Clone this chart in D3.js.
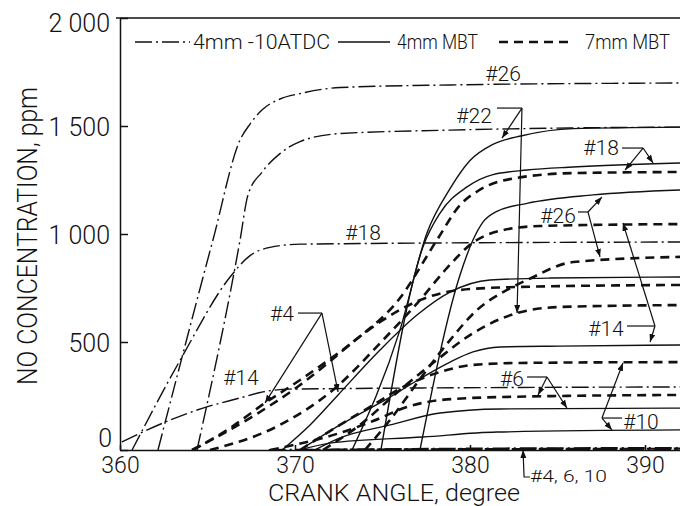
<!DOCTYPE html>
<html>
<head>
<meta charset="utf-8">
<script src="https://cdn.jsdelivr.net/npm/d3@7"></script>
<style>
    body { margin: 0; background: #fff; }
    svg text { font-family: Roboto, "DejaVu Sans", sans-serif; font-weight: 300; fill: #111; }
</style>
</head>
<body>
<div id="chart"></div>
<script>
// [crank angle (deg), NO (ppm)]

// 4mm -10ATDC (dash-dot)
const atdc26 = [[362.17, 0], [365.31, 972], [366.86, 1435], [367.43, 1509], [368.11, 1574], [369.14, 1625], [370.29, 1650], [372.57, 1678], [378.86, 1690], [392, 1699]];
const atdc22 = [[364.4, 0], [366.86, 972], [367.31, 1180], [368.11, 1286], [369.14, 1372], [370.29, 1428], [372.57, 1465], [378.86, 1481], [385.71, 1491], [392, 1495]];
const atdc18 = [[360.69, 0], [363.54, 431], [366.29, 801], [367.43, 900], [368.57, 938], [370.29, 953], [392, 963]];
const atdc14 = [[360.11, 37], [362.46, 125], [364.74, 194], [366.86, 241], [368.17, 269], [369.71, 282], [392, 292]];
const atdc4 = [[368.5, 0], [380, 4], [392, 6]];
const atdc6 = [[370.5, 0], [382, 7], [392, 9]];
const atdc10 = [[372, 0], [384, 2], [392, 3]];

// 4mm MBT (solid)
const mbt4_22 = [[373.26, 0], [376.0, 556], [377.54, 1005], [378.86, 1210], [380.0, 1340], [381.31, 1415], [382.97, 1455], [385.89, 1488], [392, 1495]];
const mbt4_18 = [[374.91, 0], [377.31, 940], [378.29, 1097], [379.83, 1218], [381.31, 1275], [383.26, 1296], [385.89, 1310], [392, 1329]];
const mbt4_26 = [[377.14, 0], [379.43, 810], [380.17, 972], [380.74, 1055], [381.54, 1105], [383.26, 1142], [387.03, 1181], [392, 1204]];
const mbt4_4 = [[369.26, 0], [370.86, 116], [372.46, 255], [374.86, 463], [376.97, 625], [378.86, 731], [381.14, 787], [384.57, 796], [392, 801]];
const mbt4_14 = [[370.29, 0], [372.57, 116], [375.43, 245], [377.31, 338], [378.86, 407], [380.17, 454], [381.71, 477], [385.14, 481], [392, 486]];
const mbt4_6 = [[371.14, 0], [372.57, 56], [375.43, 116], [378.29, 171], [381.71, 190], [392, 194]];
const mbt4_10 = [[370.29, 0], [372.0, 32], [377.31, 60], [381.54, 83], [392, 93]];

// 7mm MBT (dashed)
const mbt7_18 = [[364.11, 0], [367.43, 148], [370.29, 301], [372.97, 477], [376.0, 704], [378.11, 972], [379.43, 1134], [380.57, 1205], [382.86, 1262], [385.89, 1282], [392, 1287]];
const mbt7_14 = [[365.14, 0], [369.14, 116], [372.17, 278], [375.03, 509], [377.14, 694], [378.69, 843], [380.17, 960], [381.71, 1015], [384.0, 1037], [392, 1046]];
const mbt7_26 = [[374.0, 0], [375.43, 139], [377.31, 347], [378.86, 509], [380.4, 648], [382.11, 741], [383.26, 787], [385.89, 870], [392, 894]];
const mbt7_22 = [[371.6, 0], [373.71, 116], [376.0, 278], [378.11, 417], [380.0, 532], [382.69, 634], [385.14, 662], [392, 671]];
const mbt7_10 = [[370.29, 0], [372.57, 116], [374.46, 208], [376.4, 301], [378.29, 361], [380.17, 394], [382.86, 403], [392, 407]];
const mbt7_6 = [[368.57, 0], [372.57, 79], [374.46, 134], [376.4, 199], [378.29, 231], [381.71, 245], [392, 255]];
const mbt7_4 = [[364.17, 0], [366.29, 102], [368.29, 218], [370.29, 324], [372.57, 454], [374.86, 593], [377.14, 694], [379.43, 741], [382.86, 755], [392, 764]];

const yTicks = [0, 500, 1000, 1500, 2000];
const xTicks = [360, 370, 380, 390];

// case labels [text, angle, ppm]
const caseLabels = [
    ["#26", 381.89, 1745],
    ["#22", 380.23, 1551],
    ["#18", 387.49, 1403],
    ["#26", 385.03, 1088],
    ["#18", 373.89, 1009],
    ["#4", 369.26, 634],
    ["#14", 366.91, 338],
    ["#14", 387.77, 565],
    ["#6", 382.4, 329],
    ["#10", 389.77, 130]
];

// leader lines: bracket then arrows to the curves
const leaders = [
    { bracket: [[381.54, 1583], [382.97, 1583]], arrows: [[381.83, 1444], [382.69, 634]] },
    { bracket: [[388.69, 1398], [389.89, 1398]], arrows: [[388.86, 1296], [390.46, 1329]] },
    { bracket: [[386.17, 1102], [386.74, 1102]], arrows: [[387.54, 1171], [387.43, 894]] },
    { bracket: [[388.97, 574], [390.57, 574]], arrows: [[390.29, 500], [388.74, 1051]] },
    { bracket: [[370.17, 634], [371.54, 634]], arrows: [[368.29, 218], [372.46, 269]] },
    { bracket: [[383.26, 338], [384.4, 338]], arrows: [[383.89, 255], [385.54, 194]] },
    { bracket: [[388.69, 148], [387.54, 148]], arrows: [[388.11, 93], [388.74, 403]] }
];

const width = 680;
const height = 506;
const margin = { top: 18, left: 120, right: 0, bottom: 56 };

const svg = d3.select("#chart")
    .append("svg")
    .attr("width", width)
    .attr("height", height);

svg.append("defs").append("marker")
    .attr("id", "arrow")
    .attr("markerUnits", "userSpaceOnUse")
    .attr("markerWidth", 8)
    .attr("markerHeight", 6)
    .attr("refX", 8)
    .attr("refY", 3)
    .attr("orient", "auto")
    .append("path")
    .attr("d", "M0,0 L8,3 L0,6 Z")
    .attr("fill", "#111");

svg.select("defs").append("clipPath")
    .attr("id", "plot")
    .append("rect")
    .attr("x", margin.left)
    .attr("y", margin.top)
    .attr("width", width - margin.left - margin.right)
    .attr("height", height - margin.bottom - margin.top + 2);

const xScale = d3.scaleLinear()
    .domain([360, 392])
    .range([margin.left, width - margin.right]);

const yScale = d3.scaleLinear()
    .domain([0, 2000])
    .range([height - margin.bottom, margin.top]);

const line = d3.line()
    .x(d => xScale(d[0]))
    .y(d => yScale(d[1]))
    .curve(d3.curveMonotoneX);

/*
AXES
*/
const fmt = d => d >= 1000 ? d3.format(",")(d).replace(",", " ") : d;

const yAxis = svg.append("g")
    .attr("transform", `translate(${margin.left},0)`)
    .call(d3.axisLeft(yScale).tickValues(yTicks).tickFormat(fmt)
        .tickSizeInner(-8).tickSizeOuter(0).tickPadding(10));

const xAxis = svg.append("g")
    .attr("transform", `translate(0,${height - margin.bottom})`)
    .call(d3.axisBottom(xScale).tickValues(xTicks)
        .tickSizeInner(-5).tickSizeOuter(0).tickPadding(7));

svg.selectAll(".domain, .tick line").attr("stroke", "#111").attr("stroke-width", 1.5);
// the "0" sits a little above its tick, "2 000" a little below
yAxis.selectAll("text")
    .style("font-size", "25px")
    .attr("dy", d => d === 0 ? "-4px" : d === 2000 ? "13px" : "9px")
    .attr("dx", d => d === 0 ? "2px" : null);
xAxis.selectAll("text").style("font-size", "23px");

svg.append("line")
    .attr("x1", xScale(360) - 4)
    .attr("x2", xScale(392))
    .attr("y1", yScale(2000))
    .attr("y2", yScale(2000))
    .attr("stroke", "#111")
    .attr("stroke-width", 1.5);

svg.append("text")
    .attr("x", 394)
    .attr("y", 501)
    .attr("text-anchor", "middle")
    .attr("textLength", 252)
    .attr("lengthAdjust", "spacingAndGlyphs")
    .style("font-size", "24px")
    .text("CRANK ANGLE,   degree");

svg.append("text")
    .attr("transform", "translate(37,236) rotate(-90)")
    .attr("text-anchor", "middle")
    .attr("textLength", 298)
    .attr("lengthAdjust", "spacingAndGlyphs")
    .style("font-size", "27px")
    .text("NO CONCENTRATION,  ppm");

/*
CURVES
*/
const styles = {
    dashdot: { width: 1.4, dash: "17,4,2,4" },
    zero: { width: 2.2, dash: "17,4,2,4" },
    solid: { width: 1.4, dash: null },
    dashed: { width: 2.6, dash: "9,6" }
};

const series = [
    [atdc26, "dashdot"], [atdc22, "dashdot"], [atdc18, "dashdot"], [atdc14, "dashdot"],
    [atdc4, "zero"], [atdc6, "zero"], [atdc10, "zero"],
    [mbt4_22, "solid"], [mbt4_18, "solid"], [mbt4_26, "solid"], [mbt4_4, "solid"],
    [mbt4_14, "solid"], [mbt4_6, "solid"], [mbt4_10, "solid"],
    [mbt7_18, "dashed"], [mbt7_14, "dashed"], [mbt7_26, "dashed"], [mbt7_22, "dashed"],
    [mbt7_10, "dashed"], [mbt7_6, "dashed"], [mbt7_4, "dashed"]
];

svg.append("g")
    .attr("clip-path", "url(#plot)")
    .selectAll("path")
    .data(series)
    .enter()
    .append("path")
    .attr("d", d => line(d[0]))
    .attr("fill", "none")
    .attr("stroke", "#111")
    .attr("stroke-width", d => styles[d[1]].width)
    .attr("stroke-dasharray", d => styles[d[1]].dash);

/*
ANNOTATIONS
*/
svg.selectAll(".caseLabel")
    .data(caseLabels)
    .enter()
    .append("text")
    .attr("class", "caseLabel")
    .attr("x", d => xScale(d[1]))
    .attr("y", d => yScale(d[2]))
    .attr("dy", "0.36em")
    .attr("text-anchor", "middle")
    .style("font-size", "21px")
    .text(d => d[0]);

const leaderG = svg.append("g")
    .attr("stroke", "#111")
    .attr("stroke-width", 1.2)
    .attr("fill", "none");

leaders.forEach(function (l) {
    leaderG.append("path")
        .attr("d", d3.line()(l.bracket.map(p => [xScale(p[0]), yScale(p[1])])));
    const end = l.bracket[1];
    l.arrows.forEach(function (a) {
        leaderG.append("line")
            .attr("x1", xScale(end[0]))
            .attr("y1", yScale(end[1]))
            .attr("x2", xScale(a[0]))
            .attr("y2", yScale(a[1]))
            .attr("marker-end", "url(#arrow)");
    });
});

// "#4, 6, 10" pointer to the zero line
leaderG.append("path")
    .attr("d", d3.line()([[xScale(383.43), yScale(-125)], [xScale(383.09), yScale(-125)], [xScale(383.03), yScale(0)]]))
    .attr("marker-end", "url(#arrow)");

svg.append("text")
    .attr("x", 530)
    .attr("y", yScale(-120))
    .attr("dy", "0.36em")
    .attr("textLength", 77)
    .attr("lengthAdjust", "spacingAndGlyphs")
    .style("font-size", "17px")
    .text("#4, 6, 10");

/*
LEGEND
*/
const legend = [
    { style: "dashdot", x1: 135, x2: 190, label: "4mm  -10ATDC", tx: 193, tw: 137 },
    { style: "solid", x1: 338, x2: 390, label: "4mm MBT", tx: 397, tw: 81 },
    { style: "dashed", x1: 499, x2: 573, label: "7mm MBT", tx: 585, tw: 85 }
];

legend.forEach(function (l) {
    svg.append("line")
        .attr("x1", l.x1).attr("x2", l.x2)
        .attr("y1", 42).attr("y2", 42)
        .attr("stroke", "#111")
        .attr("stroke-width", styles[l.style].width)
        .attr("stroke-dasharray", styles[l.style].dash);
    svg.append("text")
        .attr("x", l.tx)
        .attr("y", 49)
        .attr("textLength", l.tw)
        .attr("lengthAdjust", "spacingAndGlyphs")
        .style("font-size", "20px")
        .text(l.label);
});
</script>
</body>
</html>
